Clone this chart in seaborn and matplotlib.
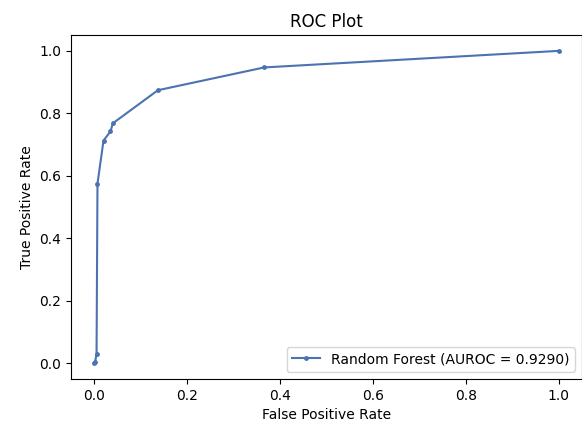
import pandas as pd
import seaborn as sns
import matplotlib.pyplot as plt

# ROC curve points
fpr = [0.0, 0.002, 0.005, 0.007, 0.020, 0.035, 0.040, 0.137, 0.366, 1.0]
tpr = [0.0, 0.005, 0.030, 0.575, 0.713, 0.742, 0.768, 0.874, 0.947, 1.0]
model_label = "Random Forest (AUROC = 0.9290)"

df = pd.DataFrame({"fpr": fpr, "tpr": tpr})

sns.set_palette("deep")
fig, ax = plt.subplots(figsize=(5.82, 4.3), dpi=100)
sns.lineplot(data=df, x="fpr", y="tpr", marker=".", markersize=7,
             markeredgewidth=0, label=model_label, ax=ax, sort=False,
             estimator=None)

ax.set_title("ROC Plot")
ax.set_xlabel("False Positive Rate")
ax.set_ylabel("True Positive Rate")
ax.legend(loc="lower right")

# the reference axes run right up to (and slightly past) the right edge
fig.subplots_adjust(left=0.122, right=1.0, top=0.918, bottom=0.119)
fig.savefig("out.png", dpi=100)
